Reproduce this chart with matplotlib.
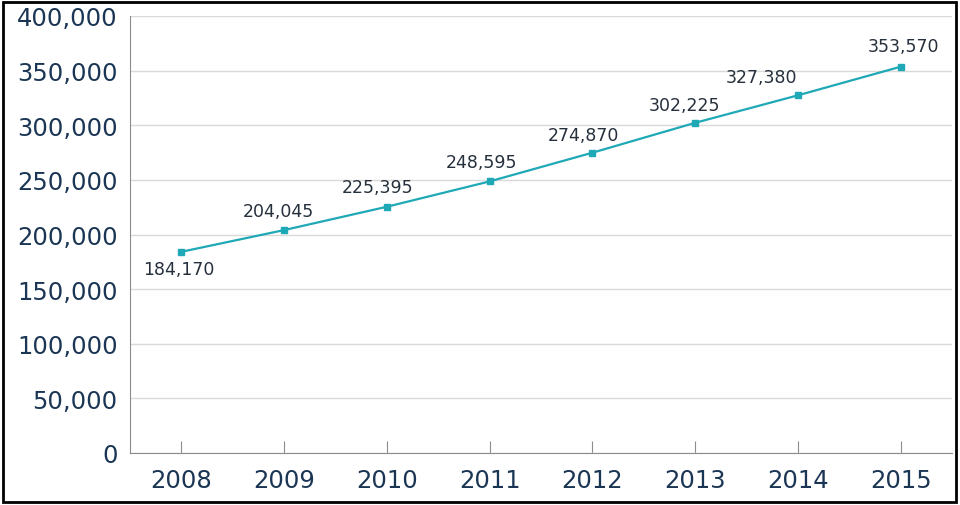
import matplotlib
matplotlib.use("Agg")
import matplotlib.pyplot as plt
from matplotlib.patches import Rectangle

years = ['2008', '2009', '2010', '2011', '2012', '2013', '2014', '2015']
values = [184170, 204045, 225395, 248595, 274870, 302225, 327380, 353570]
y_ticks = [0, 50000, 100000, 150000, 200000, 250000, 300000, 350000, 400000]

# label offsets in pixels (dx, dy) relative to the marker
label_offsets = [(-3, -17), (-6, 19), (-9, 20), (-8, 19), (-9, 18), (-11, 18), (-36, 18), (3, 21)]

navy = '#1b3654'
teal = '#1fa9b6'

plt.rcParams['font.family'] = ['DejaVu Sans']

fig = plt.figure(figsize=(9.6, 5.06), dpi=100)
ax = fig.add_axes([130 / 960, 52 / 506, 822 / 960, 437 / 506])

x = list(range(len(years)))
ax.plot(x, values, color=teal, linewidth=1.6, marker='s', markersize=5, zorder=3)

for xi, v, (dx, dy) in zip(x, values, label_offsets):
    ax.annotate(f'{v:,}', (xi, v), xytext=(dx, dy), textcoords='offset pixels',
                ha='center', va='center', fontsize=12.5, color='#26303c')

ax.set_xlim(-0.5, 7.5)
ax.set_ylim(0, 400000)
ax.set_xticks(x)
ax.set_xticklabels(years)
ax.set_yticks(y_ticks)
ax.set_yticklabels([f'{t:,}' for t in y_ticks])

ax.grid(axis='y', color='#d9d9d9', linewidth=1)
ax.set_axisbelow(True)
for s in ['top', 'right']:
    ax.spines[s].set_visible(False)
ax.spines['left'].set_color('#8c8c8c')
ax.spines['bottom'].set_color('#8c8c8c')

ax.tick_params(axis='y', length=0, pad=9, labelsize=17.5, labelcolor=navy)
ax.tick_params(axis='x', direction='in', length=9, color='#8c8c8c', pad=11,
               labelsize=17.5, labelcolor=navy)

fig.patches.append(Rectangle((0.003, 0.005), 0.993, 0.99, transform=fig.transFigure,
                             fill=False, edgecolor='black', linewidth=2))

fig.savefig('out.png', dpi=100)
